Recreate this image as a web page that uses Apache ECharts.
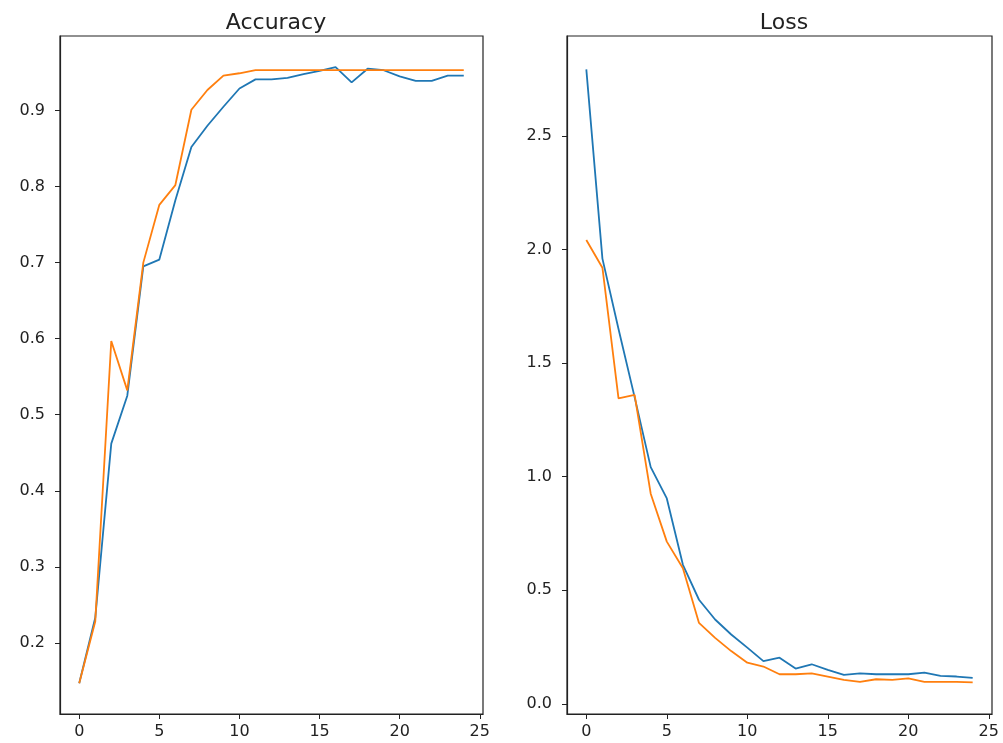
<!DOCTYPE html>
<html>
<head>
<meta charset="utf-8">
<title>Accuracy / Loss</title>
<script src="https://cdn.jsdelivr.net/npm/echarts@6/dist/echarts.min.js"></script>
<style>
  html, body { margin: 0; padding: 0; background: #fff; }
  #main { width: 1003px; height: 743px; }
</style>
</head>
<body>
<div id="main"></div>
<script>
// epochs on the x axis
var epochs = [0, 1, 2, 3, 4, 5, 6, 7, 8, 9, 10, 11, 12, 13, 14, 15, 16, 17, 18, 19, 20, 21, 22, 23, 24];

// accuracy (blue = train, orange = val)
var accBlue = [0.147, 0.233, 0.462, 0.525, 0.695, 0.704, 0.782, 0.852, 0.880, 0.905, 0.929, 0.941, 0.941,
               0.943, 0.948, 0.952, 0.957, 0.937, 0.955, 0.953, 0.945, 0.939, 0.939, 0.946, 0.946];
var accOrange = [0.147, 0.228, 0.597, 0.532, 0.700, 0.776, 0.802, 0.901, 0.927, 0.946, 0.949, 0.953, 0.953,
                 0.953, 0.953, 0.953, 0.953, 0.953, 0.953, 0.953, 0.953, 0.953, 0.953, 0.953, 0.953];

// loss
var lossBlue = [2.793, 1.960, 1.650, 1.350, 1.042, 0.904, 0.612, 0.458, 0.371, 0.305, 0.247, 0.188, 0.203,
                0.155, 0.174, 0.149, 0.127, 0.134, 0.130, 0.130, 0.130, 0.137, 0.123, 0.120, 0.114];
var lossOrange = [2.042, 1.920, 1.345, 1.360, 0.925, 0.714, 0.597, 0.356, 0.290, 0.232, 0.181, 0.164, 0.130,
                  0.130, 0.134, 0.120, 0.105, 0.096, 0.108, 0.105, 0.112, 0.096, 0.096, 0.096, 0.094];

var titles = ['Accuracy', 'Loss'];

var BLUE = '#1f77b4', ORANGE = '#ff7f0e';
var FONT = 'DejaVu Sans';

function pairs(ys) {
    return epochs.map(function (x, i) { return [x, ys[i]]; });
}

function xAxis(idx) {
    return {
        type: 'value', gridIndex: idx, min: -1.2, max: 25.2, splitNumber: 5,
        splitLine: { show: false },
        axisLine: { onZero: false, lineStyle: { color: '#222', width: 1.2 } },
        axisTick: { length: 5, lineStyle: { color: '#222' } },
        axisLabel: {
            color: '#222', fontFamily: FONT, fontSize: 16, margin: 10,
            showMinLabel: false, showMaxLabel: false,
            formatter: function (v) { return v % 5 === 0 ? String(v) : ''; }
        }
    };
}

function yAxis(idx, min, max, split, fmt) {
    return {
        type: 'value', gridIndex: idx, min: min, max: max, splitNumber: split,
        splitLine: { show: false },
        axisLine: { show: true, onZero: false, lineStyle: { color: '#222', width: 1.2 } },
        axisTick: { show: true, length: 5, lineStyle: { color: '#222' } },
        axisLabel: {
            color: '#222', fontFamily: FONT, fontSize: 16, margin: 15,
            showMinLabel: false, showMaxLabel: false,
            formatter: fmt
        }
    };
}

var myChart = echarts.init(document.getElementById('main'), null, { renderer: 'canvas' });

var option = {
    backgroundColor: '#fff',
    animation: false,
    title: [
        { text: titles[0], left: 271, top: 7, textAlign: 'center',
          textStyle: { fontFamily: FONT, fontSize: 22, fontWeight: 'normal', color: '#222' } },
        { text: titles[1], left: 779, top: 7, textAlign: 'center',
          textStyle: { fontFamily: FONT, fontSize: 22, fontWeight: 'normal', color: '#222' } }
    ],
    grid: [
        { left: 60, top: 36, width: 423, height: 678, show: true, borderColor: '#222', borderWidth: 1.2, containLabel: false },
        { left: 567, top: 36, width: 425, height: 678, show: true, borderColor: '#222', borderWidth: 1.2, containLabel: false }
    ],
    xAxis: [xAxis(0), xAxis(1)],
    yAxis: [
        yAxis(0, 0.1065, 0.998, 8, function (v) { return v.toFixed(1); }),
        yAxis(1, -0.045, 2.94, 6, function (v) { return v.toFixed(1); })
    ],
    series: [
        { type: 'line', xAxisIndex: 0, yAxisIndex: 0, data: pairs(accBlue), showSymbol: false,
          lineStyle: { color: BLUE, width: 1.8 }, itemStyle: { color: BLUE } },
        { type: 'line', xAxisIndex: 0, yAxisIndex: 0, data: pairs(accOrange), showSymbol: false,
          lineStyle: { color: ORANGE, width: 1.8 }, itemStyle: { color: ORANGE } },
        { type: 'line', xAxisIndex: 1, yAxisIndex: 1, data: pairs(lossBlue), showSymbol: false,
          lineStyle: { color: BLUE, width: 1.8 }, itemStyle: { color: BLUE } },
        { type: 'line', xAxisIndex: 1, yAxisIndex: 1, data: pairs(lossOrange), showSymbol: false,
          lineStyle: { color: ORANGE, width: 1.8 }, itemStyle: { color: ORANGE } }
    ]
};

myChart.setOption(option);
</script>
</body>
</html>
